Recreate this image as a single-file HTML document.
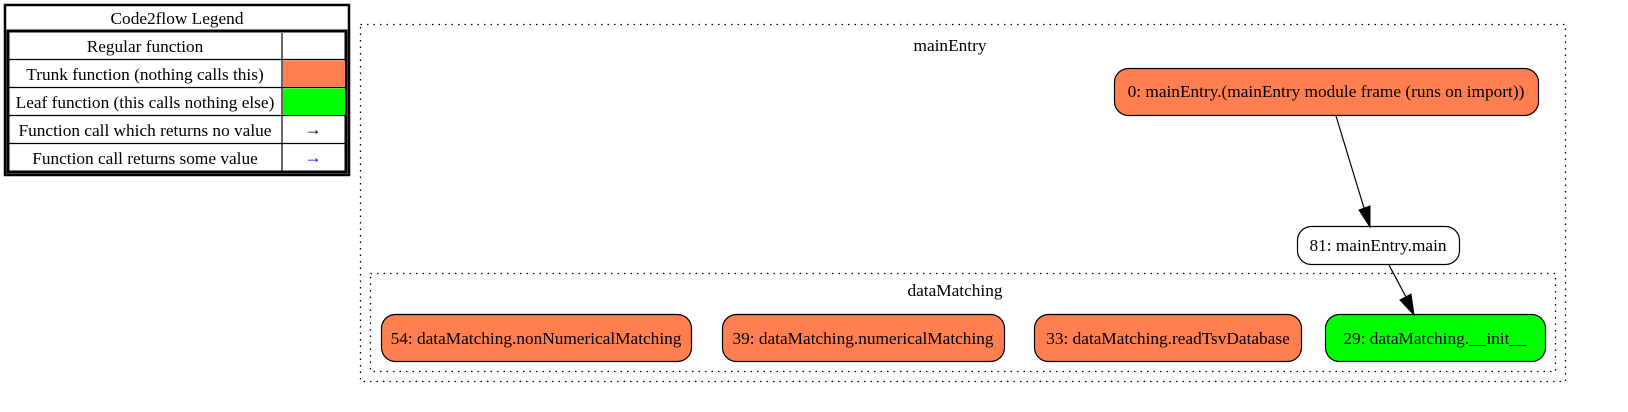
<!DOCTYPE html>
<html><head><style>body{margin:0;background:#fff}svg{display:block}text{font-family:"Liberation Serif",serif;font-size:17.3px;fill:#000}</style></head>
<body>
<svg width="1628" height="412" viewBox="0 0 1628 412" xmlns="http://www.w3.org/2000/svg">
<rect x="5" y="5" width="344" height="170" fill="#fff" stroke="#000" stroke-width="2.5"/>
<text x="177" y="24" text-anchor="middle">Code2flow Legend</text>
<rect x="8" y="31" width="338" height="141" fill="none" stroke="#000" stroke-width="3"/>
<g stroke="#000" stroke-width="1.2">
<line x1="8" y1="59.5" x2="346" y2="59.5"/>
<line x1="8" y1="87.5" x2="346" y2="87.5"/>
<line x1="8" y1="115.5" x2="346" y2="115.5"/>
<line x1="8" y1="143.5" x2="346" y2="143.5"/>
<line x1="282" y1="33" x2="282" y2="171"/>
</g>
<rect x="283" y="60.5" width="62" height="26.5" fill="#ff7f50"/>
<rect x="283" y="88.5" width="62" height="26.5" fill="#00ff00"/>
<text x="145" y="52" text-anchor="middle">Regular function</text>
<text x="145" y="80" text-anchor="middle">Trunk function (nothing calls this)</text>
<text x="145" y="108" text-anchor="middle">Leaf function (this calls nothing else)</text>
<text x="145" y="136" text-anchor="middle">Function call which returns no value</text>
<text x="145" y="164" text-anchor="middle">Function call returns some value</text>
<text x="313" y="135" text-anchor="middle">→</text>
<text x="313" y="163" text-anchor="middle" style="fill:#0000ff">→</text>

<rect x="360.5" y="24.5" width="1205" height="357" fill="none" stroke="#000" stroke-width="1.3" stroke-dasharray="1.5,5"/>
<text x="950" y="51" text-anchor="middle">mainEntry</text>
<rect x="370.5" y="273.5" width="1185" height="98" fill="none" stroke="#000" stroke-width="1.3" stroke-dasharray="1.5,5"/>
<text x="955" y="296" text-anchor="middle">dataMatching</text>

<g stroke="#000" stroke-width="1.2">
<rect x="1114.5" y="68.5" width="424" height="47" rx="14" fill="#ff7f50"/>
<rect x="1297.5" y="226.5" width="162" height="38" rx="14" fill="#fff"/>
<rect x="381.5" y="314.5" width="310" height="47" rx="14" fill="#ff7f50"/>
<rect x="722.5" y="314.5" width="282" height="47" rx="14" fill="#ff7f50"/>
<rect x="1034.5" y="314.5" width="267" height="47" rx="14" fill="#ff7f50"/>
<rect x="1325.5" y="314.5" width="220" height="47" rx="14" fill="#00ff00"/>
<line x1="1336" y1="116" x2="1364" y2="208"/>
<line x1="1389" y1="265" x2="1406" y2="297"/>
</g>
<polygon points="1359,210 1370,227 1370,206" fill="#000" stroke="#000"/>
<polygon points="1400,300 1414,315 1411,294" fill="#000" stroke="#000"/>

<text x="1326" y="97" text-anchor="middle">0: mainEntry.(mainEntry module frame (runs on import))</text>
<text x="1378" y="251" text-anchor="middle">81: mainEntry.main</text>
<text x="536" y="344" text-anchor="middle">54: dataMatching.nonNumericalMatching</text>
<text x="863" y="344" text-anchor="middle">39: dataMatching.numericalMatching</text>
<text x="1168" y="344" text-anchor="middle">33: dataMatching.readTsvDatabase</text>
<text x="1435" y="344" text-anchor="middle">29: dataMatching.__init__</text>
</svg>
</body></html>
